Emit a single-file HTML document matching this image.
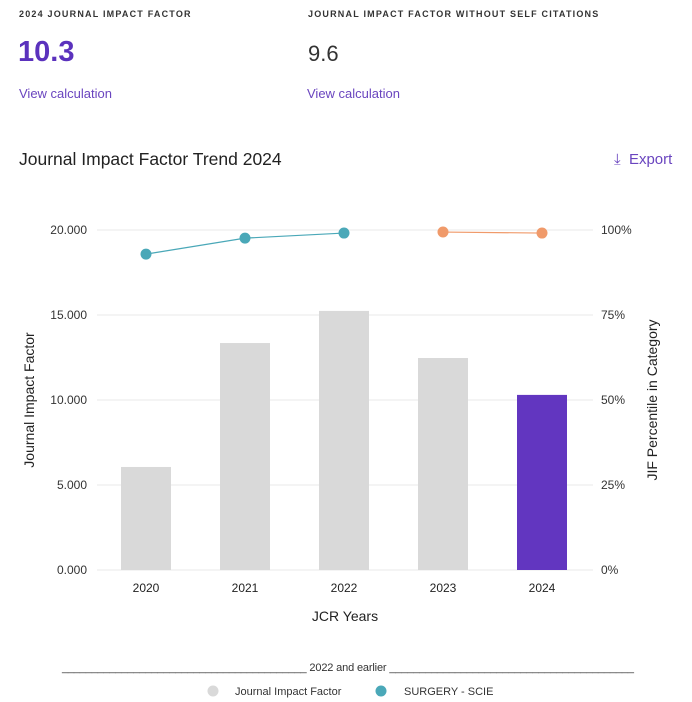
<!DOCTYPE html>
<html><head><meta charset="utf-8"><style>
body{margin:0;width:692px;height:702px;background:#fff;font-family:"Liberation Sans",sans-serif;overflow:hidden;position:relative;color:#222}
.a{position:absolute}
.lbl{font-size:9px;letter-spacing:1.2px;font-weight:bold;color:#333}
.link{font-size:13px;color:#6a45bf}
</style></head><body>
<div class="a lbl" style="left:19px;top:9px">2024 JOURNAL IMPACT FACTOR</div>
<div class="a lbl" style="left:308px;top:9px">JOURNAL IMPACT FACTOR WITHOUT SELF CITATIONS</div>
<div class="a" style="left:18px;top:36px;font-size:29px;color:#5b32bd;font-weight:bold">10.3</div>
<div class="a" style="left:308px;top:41px;font-size:22px;color:#333">9.6</div>
<div class="a link" style="left:19px;top:86px">View calculation</div>
<div class="a link" style="left:307px;top:86px">View calculation</div>
<div class="a" style="left:19px;top:149px;font-size:17.5px;color:#222;font-weight:500">Journal Impact Factor Trend 2024</div>
<div class="a" style="left:614px;top:151px;font-size:15px;color:#6a45bf">&#x2913;&nbsp; Export</div>
<svg class="a" style="left:0;top:0" width="692" height="702" id="chart"></svg>
<script>
const years=["2020","2021","2022","2023","2024"];
const jifValues=[6.06,13.35,15.24,12.47,10.3];
const percentiles=[92.9,97.6,99.1,99.4,99.1];
const leftTicks=["0.000","5.000","10.000","15.000","20.000"];
const leftTickVals=[0,5,10,15,20];
const rightTicks=["0%","25%","50%","75%","100%"];
const NS="http://www.w3.org/2000/svg";
const svg=document.getElementById('chart');
const x0=97,x1=593,step=99,yb=570,yt=230;
const xc=i=>146+i*step;
const yL=v=>yb-(v/20)*(yb-yt);
const yP=p=>yb-(p/100)*(yb-yt);
function mk(t,a,txt){const e=document.createElementNS(NS,t);for(const k in a)e.setAttribute(k,a[k]);if(txt!=null)e.textContent=txt;svg.appendChild(e);return e;}
leftTickVals.forEach((v,i)=>{
 const g=mk('line',{x1:x0,x2:x1,y1:yL(v),y2:yL(v),stroke:'#e8e8e8','stroke-width':1});
 
 
 const t=mk('text',{x:87,y:yL(v)+4,'text-anchor':'end','font-size':12,fill:'#333'},leftTicks[i]);
 
 
 const r=mk('text',{x:601,y:yL(v)+4,'font-size':12,fill:'#333'},rightTicks[i]);
 
 
});
jifValues.forEach((v,i)=>{
 const b=mk('rect',{x:xc(i)-25,y:yL(v),width:50,height:yb-yL(v),fill:i===4?'#6236c0':'#d9d9d9'});
 
 
 const t=mk('text',{x:xc(i),y:592,'text-anchor':'middle','font-size':12,fill:'#222'},years[i]);
 
 
});
const l1=mk('polyline',{points:[0,1,2].map(i=>xc(i)+','+yP(percentiles[i])).join(' '),fill:'none',stroke:'#4aa8b8','stroke-width':1.2});


const l2=mk('polyline',{points:[3,4].map(i=>xc(i)+','+yP(percentiles[i])).join(' '),fill:'none',stroke:'#f09a6a','stroke-width':1.2});


percentiles.forEach((p,i)=>{
 const c=mk('circle',{cx:xc(i),cy:yP(p),r:5.5,fill:i<3?'#4aa8b8':'#f09a6a'});
 
 
});
const xt=mk('text',{x:345,y:621,'text-anchor':'middle','font-size':14,fill:'#222'},'JCR Years');


const yt1=mk('text',{x:0,y:0,'text-anchor':'middle','font-size':14,fill:'#222',transform:'translate(34,400) rotate(-90)'},'Journal Impact Factor');


const yt2=mk('text',{x:0,y:0,'text-anchor':'middle','font-size':14,fill:'#222',transform:'translate(657,400) rotate(-90)'},'JIF Percentile in Category');


const lg=mk('text',{x:348,y:671,'text-anchor':'middle','font-size':11,fill:'#333','textLength':572},'_________________________________________ 2022 and earlier _________________________________________');


const c1=mk('circle',{cx:213,cy:691,r:5.5,fill:'#d9d9d9'});


const t1=mk('text',{x:235,y:695,'font-size':11,fill:'#333'},'Journal Impact Factor');


const c2=mk('circle',{cx:381,cy:691,r:5.5,fill:'#4aa8b8'});


const t2=mk('text',{x:404,y:695,'font-size':11,fill:'#333'},'SURGERY - SCIE');


</script>
</body></html>
